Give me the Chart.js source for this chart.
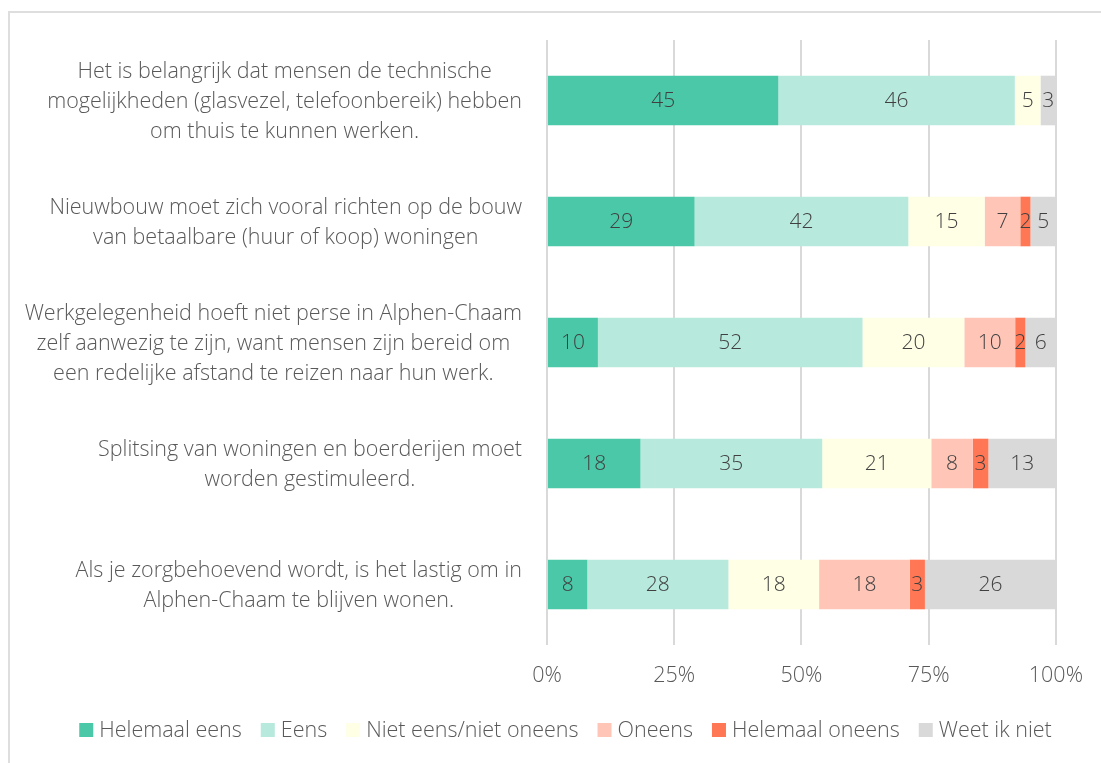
<!DOCTYPE html>
<html>
<head>
<meta charset="utf-8">
<script src="https://cdn.jsdelivr.net/npm/chart.js@4"></script>
<style>
  html, body { margin: 0; padding: 0; background: #ffffff; overflow: hidden; }
  #wrap { position: relative; width: 1101px; height: 763px; }
  #frame { position: absolute; left: 8px; top: 11px; width: 1200px; height: 900px;
           border-left: 2px solid #dedede; border-top: 2px solid #dedede; box-sizing: border-box; pointer-events: none; }
  canvas { position: absolute; left: 0; top: 0; }
</style>
</head>
<body>
<div id="wrap">
  <canvas id="c" width="1101" height="763"></canvas>
  <div id="frame"></div>
</div>
<script>
// ---- Data ----
const categories = [
  ["Het is belangrijk dat mensen de technische", "mogelijkheden (glasvezel, telefoonbereik) hebben", "om thuis te kunnen werken."],
  ["Nieuwbouw moet zich vooral richten op de bouw", "van betaalbare (huur of koop) woningen"],
  ["Werkgelegenheid hoeft niet perse in Alphen-Chaam", "zelf aanwezig te zijn, want mensen zijn bereid om", "een redelijke afstand te reizen naar hun werk."],
  ["Splitsing van woningen en boerderijen moet", "worden gestimuleerd."],
  ["Als je zorgbehoevend wordt, is het lastig om in", "Alphen-Chaam te blijven wonen."]
];
const seriesNames = ["Helemaal eens", "Eens", "Niet eens/niet oneens", "Oneens", "Helemaal oneens", "Weet ik niet"];
const helemaalEens   = [45, 29, 10, 18, 8];
const eens           = [46, 42, 52, 35, 28];
const neutraal       = [5, 15, 20, 21, 18];
const oneens         = [0, 7, 10, 8, 18];
const helemaalOneens = [0, 2, 2, 3, 3];
const weetIkNiet     = [3, 5, 6, 13, 26];
const tickValues = [0, 25, 50, 75, 100];

const seriesColors = ["#4BC8A8", "#B7E9DC", "#FFFFE6", "#FFC6B8", "#FF7754", "#D9D9D9"];
const allSeries = [helemaalEens, eens, neutraal, oneens, helemaalOneens, weetIkNiet];

// 100% stacked: normalise each row to its total
const rowTotals = categories.map((_, i) => allSeries.reduce((s, arr) => s + arr[i], 0));

const FONT = "'Open Sans', 'Lato', sans-serif";
const FS = 21.5;
const TEXT = "#595959";

const datasets = allSeries.map((arr, k) => ({
  label: seriesNames[k],
  data: arr.map((v, i) => v / rowTotals[i] * 100),
  raw: arr,
  backgroundColor: seriesColors[k],
  borderColor: "#ffffff",
  borderWidth: 0,
  barPercentage: 0.41,
  categoryPercentage: 1.0
}));

const labelPlugin = {
  id: 'customLabels',
  afterDatasetsDraw(chart) {
    const ctx = chart.ctx;
    ctx.save();
    ctx.font = `300 21px ${FONT}`;
    ctx.fillStyle = "#404040";
    ctx.textAlign = "center";
    ctx.textBaseline = "middle";
    chart.data.datasets.forEach((ds, k) => {
      const meta = chart.getDatasetMeta(k);
      meta.data.forEach((el, i) => {
        const v = ds.raw[i];
        if (!v) return;
        ctx.fillText(String(v), (el.x + el.base) / 2, el.y + 1);
      });
    });
    // category labels: block right-aligned, lines centred inside block
    const ys = chart.scales.y;
    ctx.font = `300 ${FS}px ${FONT}`;
    ctx.fillStyle = TEXT;
    const lh = 30;
    categories.forEach((lines, i) => {
      const y = ys.getPixelForValue(i);
      const w = Math.max(...lines.map(l => ctx.measureText(l).width));
      const cx = 522 - w / 2;
      const y0 = y - (lines.length - 1) * lh / 2;
      lines.forEach((l, j) => ctx.fillText(l, cx, y0 + j * lh + 1));
    });
    // legend
    const box = 14, gapText = 6, gapItem = 19, legendY = 730, legendCX = 565.5;
    const items = chart.data.datasets.map(ds => ({ text: ds.label, color: ds.backgroundColor, w: ctx.measureText(ds.label).width }));
    const total = items.reduce((s, it) => s + box + gapText + it.w, 0) + gapItem * (items.length - 1);
    let x = legendCX - total / 2;
    ctx.textAlign = "left";
    items.forEach(it => {
      ctx.fillStyle = it.color;
      ctx.fillRect(x, legendY - box / 2, box, box);
      x += box + gapText;
      ctx.fillStyle = TEXT;
      ctx.fillText(it.text, x, legendY + 1);
      x += it.w + gapItem;
    });
    ctx.restore();
  }
};

new Chart(document.getElementById('c'), {
  type: 'bar',
  data: { labels: categories.map(c => c.join(' ')), datasets },
  options: {
    indexAxis: 'y',
    responsive: false,
    animation: false,
    layout: { padding: { top: 40, left: 73, right: 44, bottom: 59 } },
    scales: {
      x: {
        stacked: true, min: 0, max: 100,
        afterBuildTicks(scale) { scale.ticks = tickValues.map(v => ({ value: v })); },
        afterFit(scale) { scale.height = 59; },
        grid: { color: "#D9D9D9", lineWidth: 2, drawTicks: false },
        border: { display: false },
        ticks: { color: TEXT, font: { family: FONT, size: FS, weight: 300 }, padding: 18,
                 callback: v => v + '%' }
      },
      y: {
        stacked: true,
        afterFit(scale) { scale.width = 474; },
        grid: { display: false },
        border: { display: false },
        ticks: { display: false }
      }
    },
    plugins: {
      legend: { display: false },
      tooltip: { enabled: false }
    }
  },
  plugins: [labelPlugin]
});
</script>
</body>
</html>
